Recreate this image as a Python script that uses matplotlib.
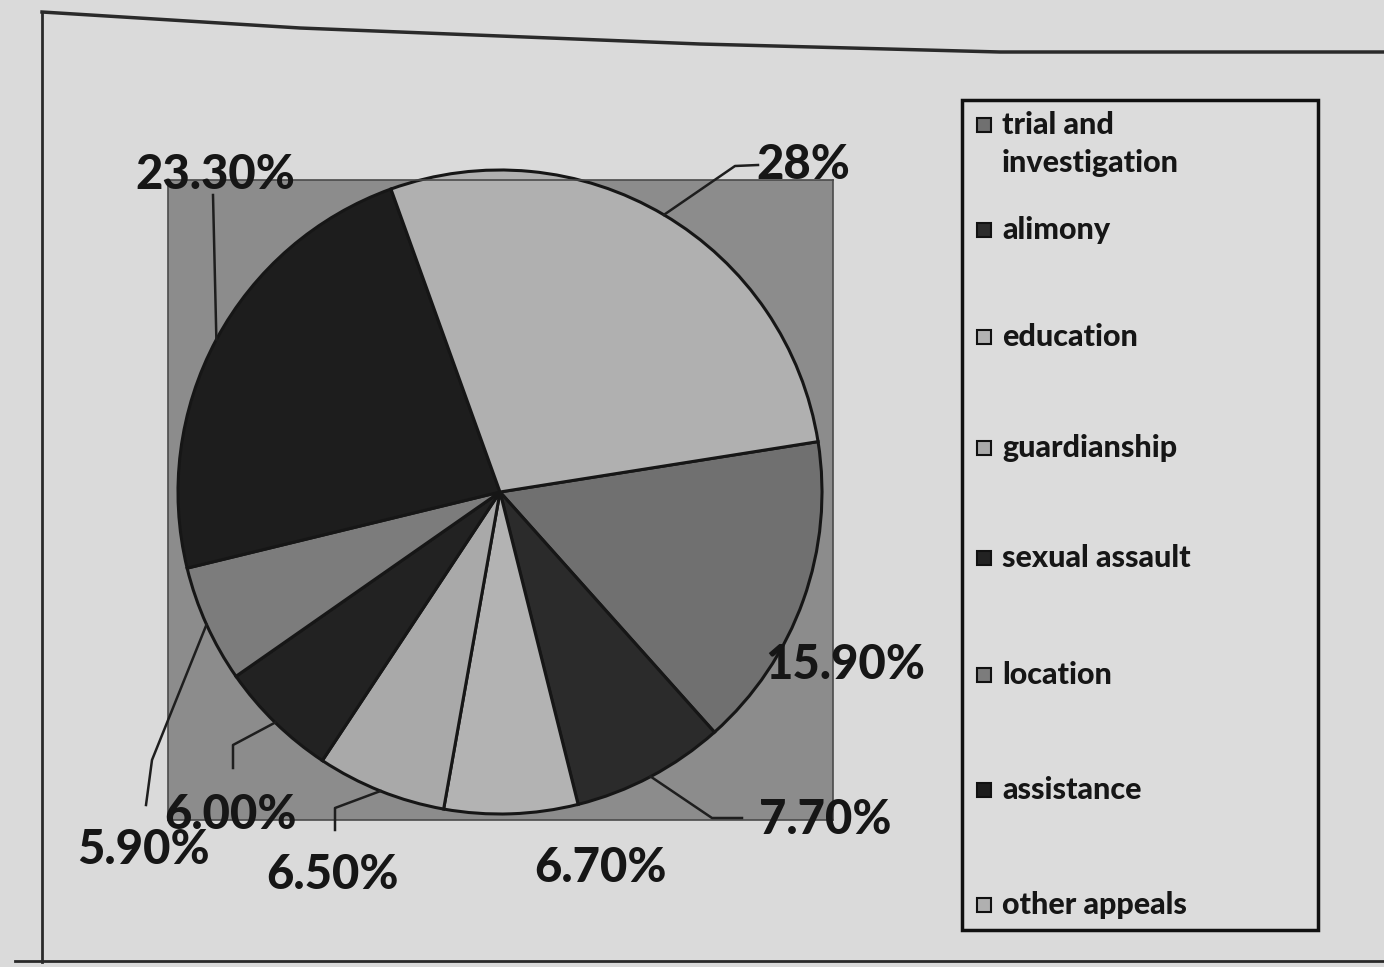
import matplotlib.pyplot as plt
import numpy as np
from matplotlib.lines import Line2D
from matplotlib.patches import Rectangle

# data (legend order = drawing order, clockwise)
categories = ["trial and\ninvestigation", "alimony", "education", "guardianship",
              "sexual assault", "location", "assistance", "other appeals"]
shares = [15.9, 7.7, 6.7, 6.5, 6.0, 5.9, 23.3, 28.0]
share_labels = ["15.90%", "7.70%", "6.70%", "6.50%", "6.00%", "5.90%", "23.30%", "28%"]
colors = ["#707070", "#2b2b2b", "#b3b3b3", "#a9a9a9", "#222222", "#7c7c7c", "#1d1d1d", "#b0b0b0"]

PAGE, PLOT_BG, INK = "#dadada", "#8c8c8c", "#161616"
W, H = 1384, 967
R = 322.0  # pie radius in px
CX, CY = 500, 492  # pie centre in px

plt.rcParams["font.family"] = ["Lato", "DejaVu Sans"]


def fx(px):
    return px / W


def fy(py):
    return 1 - py / H


def dx(px):
    return (px - CX) / R


def dy(py):
    return (CY - py) / R


fig = plt.figure(figsize=(W / 100, H / 100), dpi=100, facecolor=PAGE)

# chart frame of the printed page
fig.add_artist(Line2D([fx(42), fx(42)], [fy(12), fy(962)], color="#2a2a2a", lw=2))
fig.add_artist(Line2D([fx(15), fx(1384)], [fy(961), fy(961)], color="#2a2a2a", lw=2))
fig.add_artist(Line2D([fx(42), fx(300), fx(700), fx(1000), fx(1384)],
                      [fy(12), fy(28), fy(44), fy(52), fy(52)], color="#2a2a2a", lw=2.5))

ax = fig.add_axes([fx(168), fy(820), (833 - 168) / W, (820 - 180) / H])
wedges, _ = ax.pie(shares, colors=colors, startangle=9, counterclock=False,
                   wedgeprops=dict(edgecolor=INK, linewidth=2.2))
for w in wedges:
    w.set_clip_on(False)
ax.set_aspect("auto")
ax.set_frame_on(True)
ax.set_facecolor(PLOT_BG)
ax.set_xlim(dx(168), dx(833))
ax.set_ylim(dy(820), dy(180))
ax.set_xticks([])
ax.set_yticks([])
for s in ax.spines.values():
    s.set_color("#4a4a4a")
    s.set_linewidth(1.2)

# label text positions and leader elbows (px), in drawing order
label_xy = [(845, 665), (825, 820), (600, 868), (333, 875), (230, 815), (143, 850), (215, 175), (803, 165)]
leaders = [None, [(742, 818), (712, 818)], None, [(335, 830), (335, 808)],
           [(233, 768), (233, 745)], [(146, 805), (152, 760)], [(213, 195)], [(758, 165), (735, 166)]]

for w, lab, (tx, ty), lead in zip(wedges, share_labels, label_xy, leaders):
    ax.text(dx(tx), dy(ty), lab, ha="center", va="center", fontsize=34, fontweight="black",
            color=INK, clip_on=False, zorder=5)
    if lead:
        mid = np.deg2rad((w.theta1 + w.theta2) / 2)
        xs = [dx(p[0]) for p in lead] + [np.cos(mid)]
        ys = [dy(p[1]) for p in lead] + [np.sin(mid)]
        ax.plot(xs, ys, color="#1e1e1e", lw=1.8, clip_on=False, zorder=4)

# legend box
fig.add_artist(Rectangle((fx(962), fy(930)), (1318 - 962) / W, (930 - 100) / H,
                         transform=fig.transFigure, facecolor="#dcdcdc", edgecolor="#111111", lw=2.5))
rows = [125, 230, 337, 448, 558, 675, 790, 905]
for cat, col, ry in zip(categories, colors, rows):
    fig.add_artist(Rectangle((fx(977), fy(ry + 7)), 14 / W, 14 / H, transform=fig.transFigure,
                             facecolor=col, edgecolor="#111111", lw=1.5))
    two = "\n" in cat
    fig.text(fx(1002), fy(ry - 14) if two else fy(ry), cat, ha="left", va="top" if two else "center",
             fontsize=22, fontweight="black", color=INK, linespacing=1.45)

fig.savefig("out.png", dpi=100, facecolor=PAGE)
